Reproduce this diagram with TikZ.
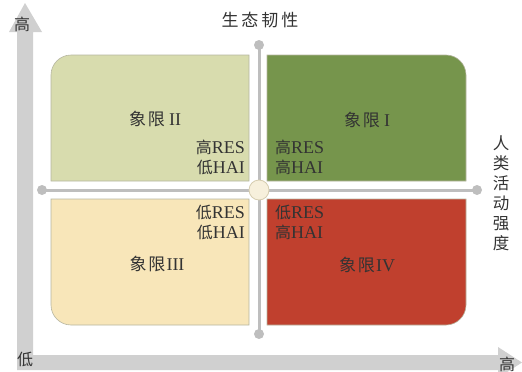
\documentclass[tikz,border=0pt]{standalone}
\usepackage{fontspec}
\setmainfont{Liberation Serif}
\newfontfamily\cjk{Noto Sans CJK SC}
\definecolor{axisgray}{HTML}{D0D0D0}
\definecolor{linegray}{HTML}{BEBEBE}
\definecolor{qtwo}{HTML}{D8DCAE}
\definecolor{qone}{HTML}{76954C}
\definecolor{qthree}{HTML}{F8E6B9}
\definecolor{qfour}{HTML}{C0402E}
\definecolor{txt}{HTML}{333333}
\definecolor{qborder}{HTML}{B5B5A0}
\definecolor{cfill}{HTML}{F7F0DC}
\definecolor{cdraw}{HTML}{D6CDB0}
\begin{document}
\begin{tikzpicture}[x=1pt,y=-1pt,
  quad/.style={draw=qborder,line width=0.6pt},
  lbl/.style={text=txt,inner sep=0pt,font=\fontsize{18}{20}\selectfont},
  axl/.style={text=txt,inner sep=0pt,font=\cjk\fontsize{16}{16}\selectfont},
  gline/.style={draw=linegray,line width=3pt},
  enddot/.style={circle,fill=linegray,minimum size=10pt,inner sep=0pt}]
\useasboundingbox (0,0) rectangle (522,372);
\clip (0,0) rectangle (522,372);
% axes
\fill[axisgray] (17,370) -- (17,32) -- (9,32) -- (25,3) -- (42,32) -- (33,32) -- (33,355) -- (498,355) -- (498,347) -- (522,362.5) -- (498,378) -- (498,370) -- cycle;
% quadrants
\path[quad,fill=qtwo] (51,181) -- (51,75) .. controls (51,64) and (60,55) .. (71,55) -- (249,55) -- (249,181) -- cycle;
\path[quad,fill=qone] (267,181) -- (267,55) -- (446,55) .. controls (457,55) and (466,64) .. (466,75) -- (466,181) -- cycle;
\path[quad,fill=qthree] (51,199) -- (249,199) -- (249,325) -- (71,325) .. controls (60,325) and (51,316) .. (51,305) -- cycle;
\path[quad,fill=qfour] (267,199) -- (466,199) -- (466,305) .. controls (466,316) and (457,325) .. (446,325) -- (267,325) -- cycle;
% cross lines
\node[enddot] (vt) at (259,45) {};
\node[enddot] (vb) at (259,334) {};
\node[enddot] (hl) at (42,190) {};
\node[enddot] (hr) at (477,190) {};
\draw[gline] (vt.center) -- (vb.center);
\draw[gline] (hl.center) -- (hr.center);
\node[circle,draw=cdraw,fill=cfill,line width=0.8pt,minimum size=20pt,inner sep=0pt] (c) at (259,190) {};
% titles
\node[axl,font=\cjk\fontsize{17}{17}\selectfont] (t) at (260,20) {生\hspace{3pt}态\hspace{3pt}韧\hspace{3pt}性};
\node[axl,align=center,font=\cjk\fontsize{16.5}{20}\selectfont] (r) at (501,193) {人\\类\\活\\动\\强\\度};
\node[axl] (yh) at (22,24) {高};
\node[axl] (yl) at (25,359) {低};
\node[axl] (xh) at (507,364) {高};
% quadrant labels
\node[lbl] (l2) at (155,119) {{\cjk\fontsize{17}{17}\selectfont 象\hspace{2pt}限}\hspace{4pt}II};
\node[lbl] (l1) at (367,120) {{\cjk\fontsize{17}{17}\selectfont 象\hspace{2pt}限}\hspace{4pt}I};
\node[lbl] (l3) at (157,264) {{\cjk\fontsize{17}{17}\selectfont 象\hspace{2pt}限}\hspace{1pt}III};
\node[lbl] (l4) at (367,265) {{\cjk\fontsize{17}{17}\selectfont 象\hspace{2pt}限}\hspace{1pt}IV};
% RES/HAI
\node[lbl,anchor=east] (a2) at (245,147) {{\cjk\fontsize{16}{16}\selectfont 高}RES};
\node[lbl,anchor=east] (b2) at (245,167) {{\cjk\fontsize{16}{16}\selectfont 低}HAI};
\node[lbl,anchor=west] (a1) at (275,147) {{\cjk\fontsize{16}{16}\selectfont 高}RES};
\node[lbl,anchor=west] (b1) at (275,167) {{\cjk\fontsize{16}{16}\selectfont 高}HAI};
\node[lbl,anchor=east] (a3) at (245,212) {{\cjk\fontsize{16}{16}\selectfont 低}RES};
\node[lbl,anchor=east] (b3) at (245,232) {{\cjk\fontsize{16}{16}\selectfont 低}HAI};
\node[lbl,anchor=west] (a4) at (275,212) {{\cjk\fontsize{16}{16}\selectfont 低}RES};
\node[lbl,anchor=west] (b4) at (275,232) {{\cjk\fontsize{16}{16}\selectfont 高}HAI};
\end{tikzpicture}
\end{document}
